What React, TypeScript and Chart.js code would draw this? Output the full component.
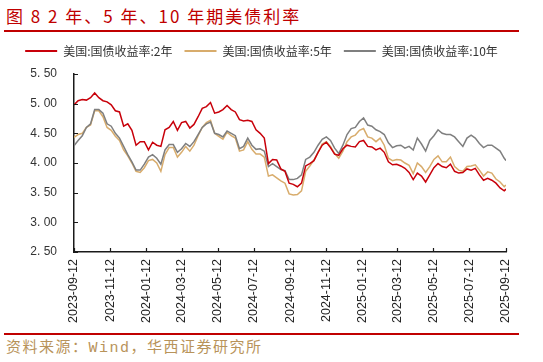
import React, { useEffect, useRef } from "react";
import { Chart, registerables } from "chart.js";

Chart.register(...registerables);

// ---- data ----
const START_DATE = "2023-09-12";
const END_DATE = "2025-09-12";
const STEP_DAYS = 7; // weekly samples

const tickLabels = [
  "2023-09-12", "2023-11-12", "2024-01-12", "2024-03-12", "2024-05-12", "2024-07-12",
  "2024-09-12", "2024-11-12", "2025-01-12", "2025-03-12", "2025-05-12", "2025-07-12", "2025-09-12",
];

const yTicks = [2.5, 3.0, 3.5, 4.0, 4.5, 5.0, 5.5];

const seriesNames = ["美国:国债收益率:2年", "美国:国债收益率:5年", "美国:国债收益率:10年"];

const y2 = [
  4.98, 5.05, 5.07, 5.06, 5.10, 5.18, 5.10, 5.05, 5.03, 4.98,
  4.88, 4.86, 4.62, 4.66, 4.55, 4.30, 4.36, 4.36, 4.22, 4.35,
  4.30, 4.28, 4.56, 4.60, 4.70, 4.55, 4.68, 4.70, 4.59, 4.65,
  4.78, 4.92, 4.95, 5.02, 4.84, 4.86, 4.90, 4.97, 4.90, 4.86,
  4.73, 4.71, 4.72, 4.70, 4.56, 4.50, 4.42, 3.99, 4.06, 4.05,
  3.90, 3.86, 3.66, 3.64, 3.60, 3.66, 3.95, 3.99, 4.04, 4.18,
  4.30, 4.35, 4.26, 4.15, 4.13, 4.24, 4.30, 4.28, 4.27, 4.36,
  4.38, 4.28, 4.27, 4.22, 4.25, 4.18, 4.02, 3.97, 3.98, 3.95,
  3.91, 3.84, 3.72, 3.83, 3.78, 3.68, 3.80, 3.92, 3.99, 3.94,
  3.92, 3.98, 3.86, 3.83, 3.84, 3.90, 3.88, 3.91, 3.80, 3.71,
  3.74, 3.71, 3.66, 3.58, 3.53, 3.56,
];

const y5 = [
  4.43, 4.48, 4.50, 4.60, 4.64, 4.88, 4.88, 4.78, 4.60, 4.55,
  4.45, 4.38, 4.22, 4.12, 4.00, 3.86, 3.84, 3.92, 4.04, 4.06,
  4.00, 3.86, 4.14, 4.26, 4.26, 4.10, 4.18, 4.28, 4.20, 4.30,
  4.46, 4.60, 4.68, 4.72, 4.50, 4.45, 4.40, 4.52, 4.46, 4.42,
  4.20, 4.22, 4.36, 4.23, 4.15, 4.15, 4.10, 3.78, 3.80, 3.75,
  3.70, 3.66, 3.48, 3.46, 3.47, 3.53, 3.86, 3.95, 4.05, 4.18,
  4.32, 4.36, 4.28, 4.16, 4.08, 4.20, 4.36, 4.44, 4.47, 4.55,
  4.58, 4.44, 4.42, 4.36, 4.42, 4.30, 4.08, 4.04, 4.06, 4.05,
  4.00, 3.96, 3.82, 4.00, 3.94, 3.84, 3.94, 4.06, 4.12, 4.02,
  4.02, 4.10, 3.94, 3.88, 3.86, 3.94, 3.95, 3.97, 3.88, 3.78,
  3.85, 3.83, 3.73, 3.68, 3.60, 3.63,
];

const y10 = [
  4.29, 4.38, 4.46, 4.60, 4.66, 4.90, 4.90, 4.84, 4.66, 4.62,
  4.50, 4.42, 4.28, 4.14, 4.02, 3.88, 3.88, 3.98, 4.10, 4.14,
  4.08, 3.98, 4.22, 4.31, 4.31, 4.18, 4.24, 4.33, 4.28, 4.36,
  4.48, 4.60, 4.66, 4.69, 4.50, 4.48, 4.44, 4.54, 4.50, 4.46,
  4.24, 4.28, 4.42, 4.30, 4.23, 4.24, 4.20, 3.94, 3.99, 3.94,
  3.89, 3.87, 3.72, 3.72, 3.74, 3.80, 4.06, 4.10, 4.18, 4.30,
  4.40, 4.44, 4.38, 4.25, 4.16, 4.30, 4.48, 4.58, 4.60, 4.70,
  4.76, 4.64, 4.62, 4.56, 4.53, 4.48, 4.34, 4.26, 4.29, 4.30,
  4.25, 4.28, 4.22, 4.42, 4.32, 4.20, 4.38, 4.46, 4.56, 4.50,
  4.48, 4.48, 4.44, 4.36, 4.28, 4.42, 4.47, 4.42, 4.33, 4.26,
  4.30, 4.30, 4.25, 4.20, 4.08, 4.04,
];

const colors = ["#C8000A", "#D8AC6C", "#7F7F7F"];

// ---- helpers ----
const DAY = 86400000;
const toUTC = (s: string) => {
  const [a, b, c] = s.split("-").map(Number);
  return Date.UTC(a, b - 1, c);
};
const startMs = toUTC(START_DATE);
const dayOf = (s: string) => Math.round((toUTC(s) - startMs) / DAY);
const endDay = dayOf(END_DATE);
const tickDays = tickLabels.map(dayOf);

const xDays = (n: number) =>
  Array.from({ length: n }, (_, i) => (i === n - 1 ? endDay : i * STEP_DAYS));

const toPoints = (vals: number[]) => {
  const xs = xDays(vals.length);
  return vals.map((v, i) => ({ x: xs[i], y: v }));
};

const insideTicks = {
  id: "insideTicks",
  afterDatasetsDraw(chart: any) {
    const { ctx, scales } = chart;
    const x = scales.x;
    const y = scales.y;
    ctx.save();
    ctx.strokeStyle = "#1a1a1a";
    ctx.lineWidth = 1.2;
    ctx.beginPath();
    x.ticks.forEach((t: any) => {
      const px = Math.round(x.getPixelForValue(t.value)) + 0.5;
      ctx.moveTo(px, y.bottom);
      ctx.lineTo(px, y.bottom - 4);
    });
    y.ticks.forEach((t: any) => {
      const py = Math.round(y.getPixelForValue(t.value)) + 0.5;
      ctx.moveTo(x.left, py);
      ctx.lineTo(x.left + 4, py);
    });
    ctx.stroke();
    ctx.restore();
  },
};

export default function App() {
  const ref = useRef<HTMLCanvasElement | null>(null);

  useEffect(() => {
    document.body.style.margin = "0";
    if (!ref.current) return;
    const chart = new Chart(ref.current, {
      type: "line",
      data: {
        datasets: [
          { label: seriesNames[0], data: toPoints(y2), borderColor: colors[0], backgroundColor: colors[0], borderWidth: 1.5, pointRadius: 0, order: 0 },
          { label: seriesNames[1], data: toPoints(y5), borderColor: colors[1], backgroundColor: colors[1], borderWidth: 1.5, pointRadius: 0, order: 2 },
          { label: seriesNames[2], data: toPoints(y10), borderColor: colors[2], backgroundColor: colors[2], borderWidth: 1.5, pointRadius: 0, order: 1 },
        ],
      },
      options: {
        animation: false,
        responsive: false,
        maintainAspectRatio: false,
        layout: { padding: { left: 0, right: 20, top: 0, bottom: 0 } },
        plugins: {
          tooltip: { enabled: false },
          title: {
            display: true,
            text: " ",
            weight: 500,
            font: { size: 7, lineHeight: 1 },
            padding: 0,
          } as any,
          legend: {
            display: true,
            position: "top",
            labels: {
              boxWidth: 32,
              boxHeight: 2,
              padding: 12,
              color: "#333",
              font: { size: 12, family: "'Noto Sans CJK SC', 'Liberation Sans'" },
              sort: (a: any, b: any) => a.datasetIndex - b.datasetIndex,
              generateLabels: (c: any) =>
                Chart.defaults.plugins.legend.labels
                  .generateLabels(c)
                  .map((l: any) => ({ ...l, lineWidth: 0, fillStyle: colors[l.datasetIndex] })),
            },
          },
        },
        scales: {
          x: {
            type: "linear",
            min: 0,
            max: endDay,
            afterBuildTicks: (s: any) => {
              s.ticks = tickDays.map((v) => ({ value: v }));
            },
            afterFit: (s: any) => {
              s.height = 78;
            },
            grid: { display: false, drawTicks: false },
            border: { display: true, color: "#1a1a1a", width: 1.5 },
            ticks: {
              autoSkip: false,
              minRotation: 90,
              maxRotation: 90,
              padding: 7,
              color: "#222",
              font: { size: 12.5, family: "'Liberation Sans', Arial" },
              callback: (v: any) => {
                const i = tickDays.indexOf(Number(v));
                return i >= 0 ? tickLabels[i] : "";
              },
            },
          },
          y: {
            type: "linear",
            min: 2.5,
            max: 5.5,
            afterBuildTicks: (s: any) => {
              s.ticks = yTicks.map((v) => ({ value: v }));
            },
            afterFit: (s: any) => {
              s.width = 74;
            },
            grid: { display: false, drawTicks: false },
            border: { display: true, color: "#1a1a1a", width: 1.5 },
            ticks: {
              padding: 17,
              color: "#333",
              font: { size: 12, family: "'Liberation Sans', Arial" },
              callback: (v: any) => Number(v).toFixed(2).replace(".", ". "),
            },
          },
          yRight: {
            type: "linear",
            position: "right",
            display: true,
            min: 0,
            max: 1,
            afterFit: (s: any) => {
              s.width = 17;
            },
            grid: { display: false, drawTicks: false },
            border: { display: false },
            ticks: { display: false },
          },
        },
      },
      plugins: [insideTicks],
    } as any);
    return () => chart.destroy();
  }, []);

  return (
    <div style={{ position: "absolute", left: 0, top: 0, width: 543, height: 362, background: "#fff", overflow: "hidden" }}>
      <div
        style={{
          position: "absolute",
          left: 6,
          top: 6,
          fontSize: 17,
          lineHeight: "20px",
          color: "#C00000",
          fontFamily: "'Noto Sans CJK SC', sans-serif",
          whiteSpace: "pre",
          letterSpacing: 2,
        }}
      >
        图 8 2 年、5 年、10 年期美债利率
      </div>
      <div style={{ position: "absolute", left: 4, top: 30, width: 515, height: 2, background: "#C00000" }} />
      <div style={{ position: "absolute", left: 0, top: 33, width: 543, height: 297 }}>
        <canvas ref={ref} width={543} height={297} style={{ display: "block" }} />
      </div>
      <div style={{ position: "absolute", left: 4, top: 333, width: 515, height: 2, background: "#C00000" }} />
      <div
        style={{
          position: "absolute",
          left: 6,
          top: 340,
          fontSize: 15,
          lineHeight: "18px",
          color: "#B8935A",
          fontFamily: "'Liberation Mono', 'Noto Sans CJK SC', monospace",
          whiteSpace: "pre",
          letterSpacing: 1.5,
        }}
      >
        资料来源：Wind，华西证券研究所
      </div>
    </div>
  );
}
